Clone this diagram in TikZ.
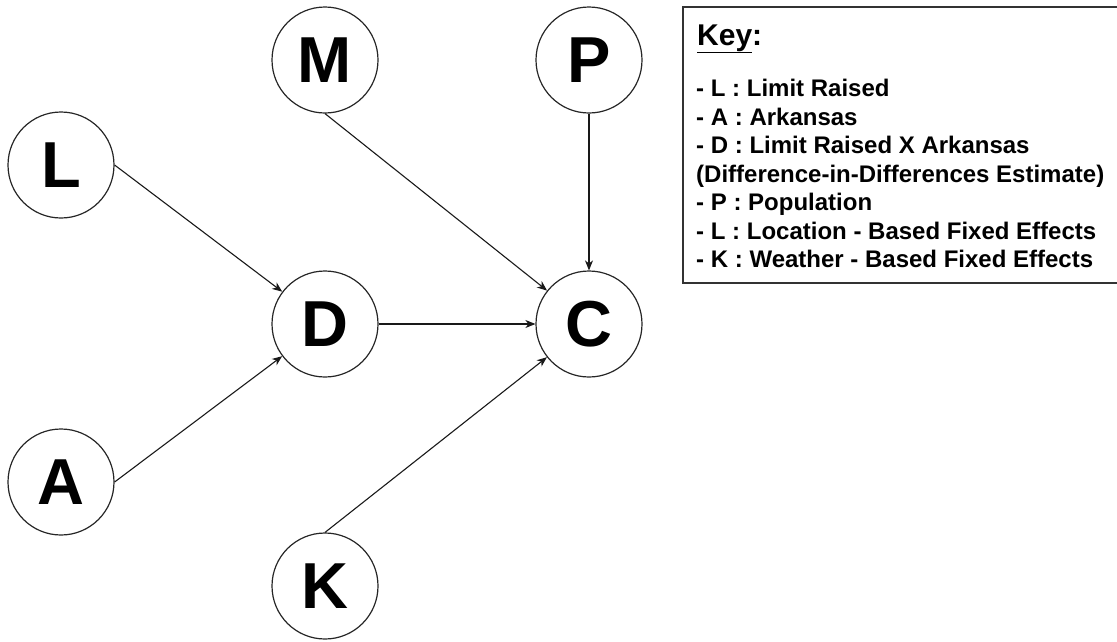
\documentclass[tikz,border=0pt]{standalone}
\usepackage{fontspec}
\setmainfont{Liberation Sans}
\usetikzlibrary{arrows.meta}

\begin{document}
\begin{tikzpicture}[x=1pt,y=-1pt,
  var/.style={circle,draw=black!85,line width=1.2pt,minimum size=106pt,inner sep=0pt,
    font=\fontsize{65}{65}\selectfont\bfseries},
  link/.style={line width=1.1pt,black!90,-{Stealth[length=10pt,width=8pt,inset=3pt]}},
  keyline/.style={anchor=base west,inner sep=0pt,font=\fontsize{24}{28.5}\selectfont\bfseries}]
\useasboundingbox (0,0) rectangle (1117,641);

\node[var] (L) at (61,165) {L};
\node[var] (M) at (325,60) {M};
\node[var] (P) at (589,60) {P};
\node[var] (D) at (325,324) {D};
\node[var] (C) at (589,324) {C};
\node[var] (A) at (61,482) {A};
\node[var] (K) at (325,586) {K};

\draw[link] (L.east) -- (D);
\draw[link] (A.east) -- (D);
\draw[link] (D) -- (C);
\draw[link] (M.south) -- (C);
\draw[link] (P.south) -- (C);
\draw[link] (K.north) -- (C);

% key
\draw[line width=1.2pt,black!80] (683,7) rectangle (1121,283);
\node[keyline,font=\fontsize{30}{30}\selectfont\bfseries] (keyhead) at (697,45) {\underline{Key}:};
\foreach \txt [count=\i] in {- L : Limit Raised, - A : Arkansas, - D : Limit Raised X Arkansas,
    {(Difference-in-Differences Estimate)}, - P : Population,
    - L : Location - Based Fixed Effects, - K : Weather - Based Fixed Effects}
  \node[keyline] (key\i) at (696,{96.6+28.5*(\i-1)}) {\txt};
\end{tikzpicture}
\end{document}
